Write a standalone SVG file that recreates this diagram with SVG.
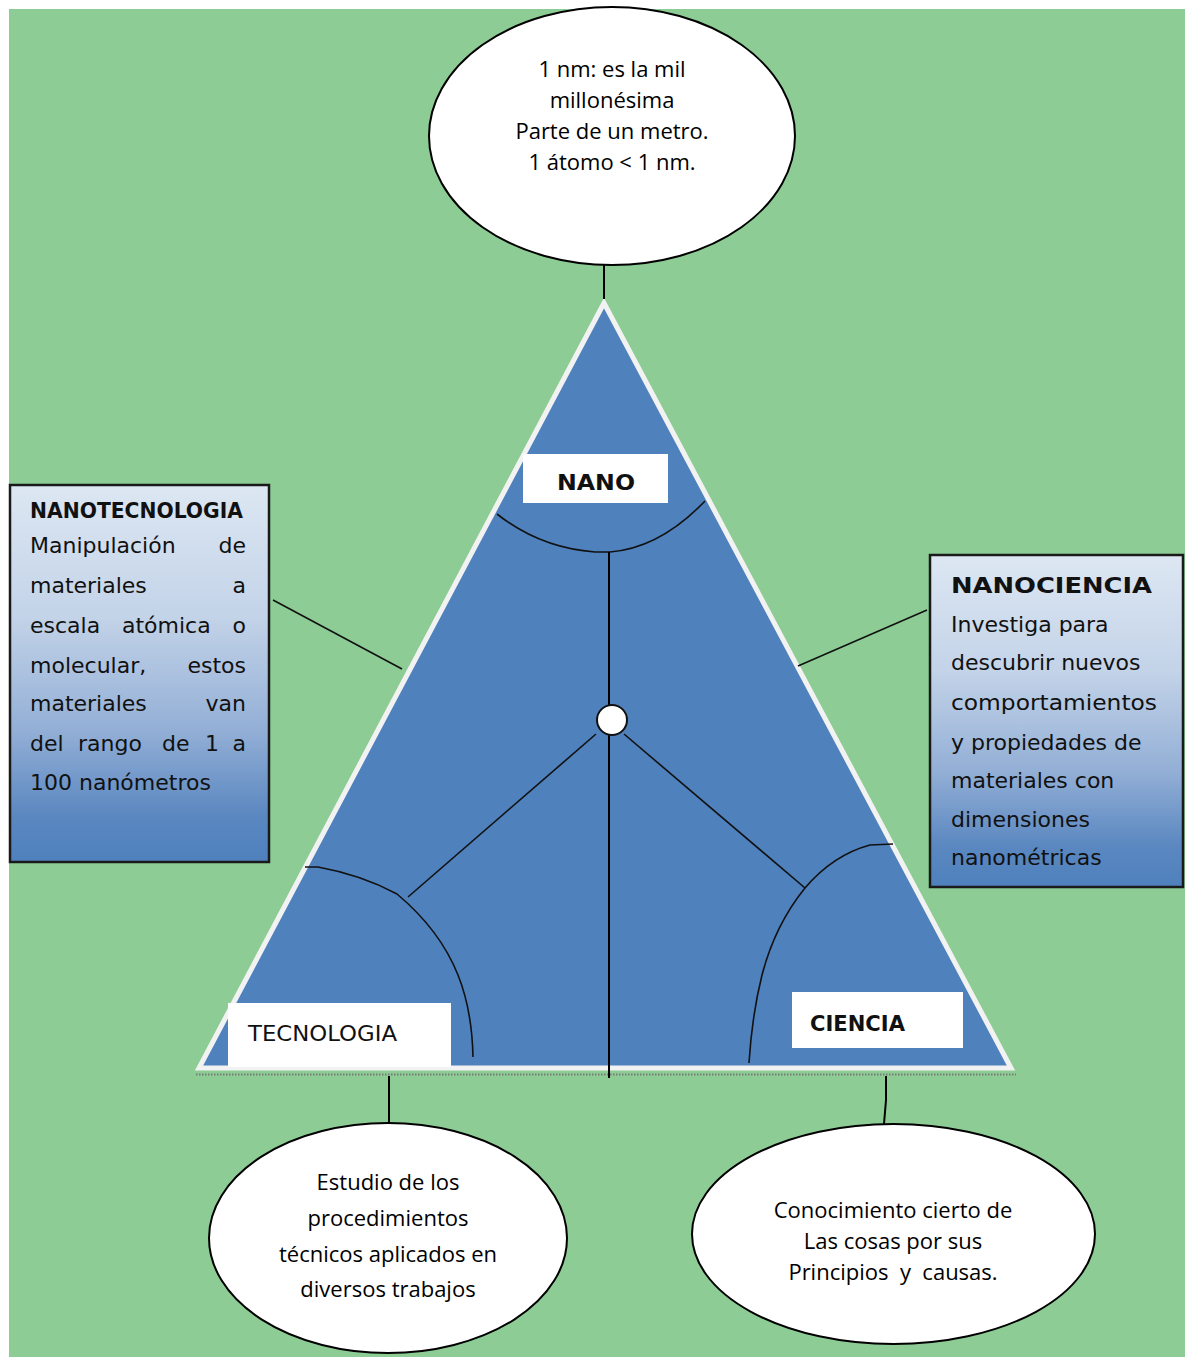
<svg xmlns="http://www.w3.org/2000/svg" width="1185" height="1357" viewBox="0 0 1185 1357">
<defs>
<linearGradient id="boxGrad" x1="0" y1="0" x2="0" y2="1">
<stop offset="0" stop-color="#dde7f3"/>
<stop offset="0.35" stop-color="#c3d3e8"/>
<stop offset="0.65" stop-color="#93afd6"/>
<stop offset="0.88" stop-color="#5a87c0"/>
<stop offset="1" stop-color="#4f81bd"/>
</linearGradient>
<style>
.ell{fill:#ffffff;stroke:#000000;stroke-width:2}
.etxt{font-family:"Open Sans","Liberation Sans",sans-serif;font-size:22px;fill:#000000;text-anchor:middle}
.box{fill:url(#boxGrad);stroke:#1a1a1a;stroke-width:2.5}
.btxt{font-family:"DejaVu Sans","Liberation Sans",sans-serif;font-size:22px;fill:#111111}
.bold{font-weight:bold}
.lbl{fill:#ffffff}
.ln{fill:none;stroke:#000000;stroke-width:2}
.ln1{fill:none;stroke:#111111;stroke-width:1.6}
</style>
</defs>
<rect x="0" y="0" width="1185" height="1357" fill="#ffffff"/>
<rect x="9" y="9" width="1176" height="1348" fill="#8dcd95"/>

<g id="triangle">
<polygon points="604,303 199,1068 1011,1068" fill="#4f81bd" stroke="#f2f2f2" stroke-width="5" stroke-linejoin="miter"/>
<line x1="196" y1="1074.5" x2="1016" y2="1074.5" stroke="#7a7a7a" stroke-width="2" stroke-dasharray="1.5,1.5"/>
</g>

<g id="connectors">
<line class="ln" x1="604" y1="265" x2="604" y2="299"/>
<line class="ln1" x1="273" y1="600" x2="402" y2="669"/>
<line class="ln1" x1="927" y1="610" x2="798" y2="666"/>
<line class="ln" x1="389" y1="1076" x2="389" y2="1124"/>
<polyline class="ln" points="886,1076 886,1100 884,1124"/>
<path class="ln1" d="M497,514 Q540,548 595,552 L610,552 Q660,548 705,501"/>
<line class="ln" x1="609" y1="552" x2="609" y2="1078"/>
<line class="ln1" x1="596" y1="734" x2="408" y2="897"/>
<line class="ln1" x1="624" y1="734" x2="805" y2="888"/>
<path class="ln1" d="M305,867 L318,867 Q362,875 397,894 Q440,930 458,975 Q472,1010 473,1057"/>
<path class="ln1" d="M893,844 L870,845 Q833,855 805,888 Q775,925 762,975 Q752,1015 749,1063"/>
</g>

<g id="center-node">
<circle cx="612" cy="720" r="15" fill="#ffffff" stroke="#111111" stroke-width="2"/>
</g>

<g id="nano-label">
<rect class="lbl" x="523" y="454" width="145" height="49"/>
<text class="btxt bold" x="557" y="490" font-size="23" textLength="78" lengthAdjust="spacingAndGlyphs">NANO</text>
</g>

<g id="tecnologia-label">
<rect class="lbl" x="228" y="1003" width="223" height="64"/>
<text class="btxt" x="248" y="1041" font-size="23" textLength="149" lengthAdjust="spacingAndGlyphs">TECNOLOGIA</text>
</g>

<g id="ciencia-label">
<rect class="lbl" x="792" y="992" width="171" height="56"/>
<text class="btxt bold" x="810" y="1031" font-size="24" textLength="95" lengthAdjust="spacingAndGlyphs">CIENCIA</text>
</g>

<g id="top-ellipse">
<ellipse class="ell" cx="612" cy="136" rx="183" ry="129"/>
<text class="etxt" x="612" y="77">1 nm: es la mil</text>
<text class="etxt" x="612" y="108">millonésima</text>
<text class="etxt" x="612" y="139">Parte de un metro.</text>
<text class="etxt" x="612" y="170">1 átomo &lt; 1 nm.</text>
</g>

<g id="nanotecnologia-box">
<rect class="box" x="10" y="485" width="259" height="377"/>
<text class="btxt bold" x="30" y="518" font-size="19" textLength="213" lengthAdjust="spacingAndGlyphs">NANOTECNOLOGIA</text>
<text class="btxt" x="30" y="553">Manipulación</text>
<text class="btxt" x="246" y="553" text-anchor="end">de</text>
<text class="btxt" x="30" y="593">materiales</text>
<text class="btxt" x="246" y="593" text-anchor="end">a</text>
<text class="btxt" x="30" y="633">escala</text>
<text class="btxt" x="122" y="633">atómica</text>
<text class="btxt" x="246" y="633" text-anchor="end">o</text>
<text class="btxt" x="30" y="673">molecular,</text>
<text class="btxt" x="246" y="673" text-anchor="end">estos</text>
<text class="btxt" x="30" y="711">materiales</text>
<text class="btxt" x="246" y="711" text-anchor="end">van</text>
<text class="btxt" x="30" y="751">del</text>
<text class="btxt" x="78" y="751">rango</text>
<text class="btxt" x="162" y="751">de</text>
<text class="btxt" x="205" y="751">1</text>
<text class="btxt" x="246" y="751" text-anchor="end">a</text>
<text class="btxt" x="30" y="790">100 nanómetros</text>
</g>

<g id="nanociencia-box">
<rect class="box" x="930" y="555" width="253" height="332"/>
<text class="btxt bold" x="951" y="593" font-size="23" textLength="201" lengthAdjust="spacingAndGlyphs">NANOCIENCIA</text>
<text class="btxt" x="951" y="632" font-size="23">Investiga para</text>
<text class="btxt" x="951" y="670" font-size="23">descubrir nuevos</text>
<text class="btxt" x="951" y="710" font-size="23" textLength="206" lengthAdjust="spacingAndGlyphs">comportamientos</text>
<text class="btxt" x="951" y="750" font-size="23">y propiedades de</text>
<text class="btxt" x="951" y="788" font-size="23">materiales con</text>
<text class="btxt" x="951" y="827" font-size="23">dimensiones</text>
<text class="btxt" x="951" y="865" font-size="23">nanométricas</text>
</g>

<g id="tecnologia-ellipse">
<ellipse class="ell" cx="388" cy="1238" rx="179" ry="115"/>
<text class="etxt" x="388" y="1190">Estudio de los</text>
<text class="etxt" x="388" y="1226">procedimientos</text>
<text class="etxt" x="388" y="1262">técnicos aplicados en</text>
<text class="etxt" x="388" y="1297">diversos trabajos</text>
</g>

<g id="ciencia-ellipse">
<ellipse class="ell" cx="893.5" cy="1234" rx="201.5" ry="110"/>
<text class="etxt" x="893" y="1218">Conocimiento cierto de</text>
<text class="etxt" x="893" y="1249">Las cosas por sus</text>
<text class="etxt" x="893" y="1280" xml:space="preserve">Principios  y  causas.</text>
</g>
</svg>
